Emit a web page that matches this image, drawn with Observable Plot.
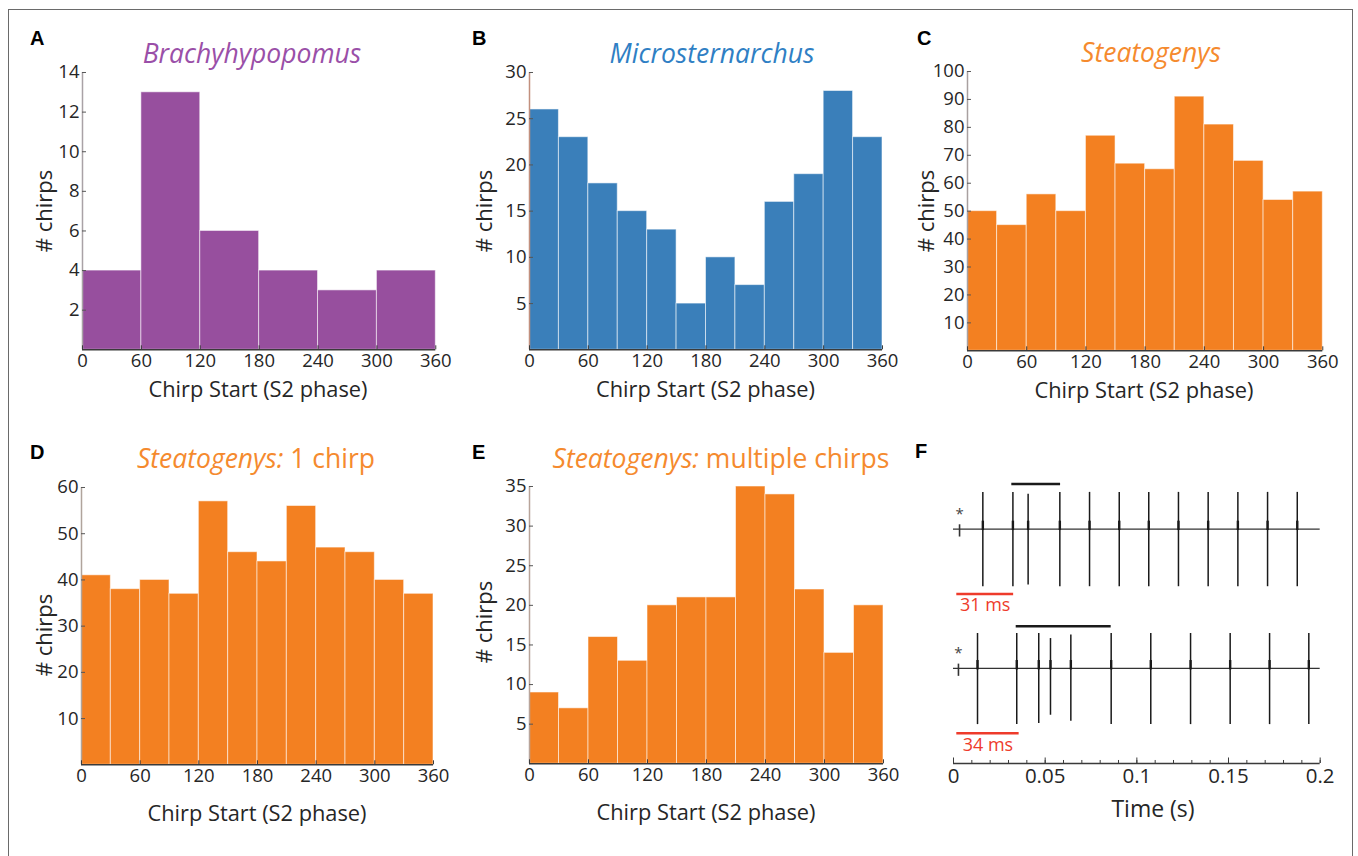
<!DOCTYPE html>
<html>
<head>
<meta charset="utf-8">
<script src="https://cdn.jsdelivr.net/npm/d3@7"></script>
<script src="https://cdn.jsdelivr.net/npm/@observablehq/plot@0.6"></script>
<style>
  html, body { margin: 0; padding: 0; background: #fff; }
  #fig { position: relative; width: 1358px; height: 856px; overflow: hidden; background: #fff;
         font-family: "Open Sans", "Noto Sans", sans-serif; color: #262626; }
  .abs { position: absolute; white-space: nowrap; }
  .center { transform: translate(-50%, -50%); }
  .letter { font-family: "Liberation Sans", Arial, sans-serif; font-weight: bold; font-size: 20px; color: #000; }
  .title { font-size: 26.5px; }
  .title i { font-style: italic; }
  .axlabel { font-size: 21.8px; color: #262626; }
  .ylab { transform: translate(-50%, -50%) rotate(-90deg); font-size: 22px; }
  #border { position: absolute; left: 8px; top: 9px; width: 1345px; height: 900px; border: 1.5px solid #6a6a6a; box-sizing: border-box; }
</style>
</head>
<body>
<div id="fig"><div id="border"></div></div>
<script>
// ---- Chirp-start phase histograms (counts per S2-phase bin, 0–360°) ----
const phaseTicks = [0, 60, 120, 180, 240, 300, 360];

const countsBrachy = [4, 13, 6, 4, 3, 4];                                   // 60° bins
const countsMicro  = [26, 23, 18, 15, 13, 5, 10, 7, 16, 19, 28, 23];        // 30° bins
const countsSteato = [50, 45, 56, 50, 77, 67, 65, 91, 81, 68, 54, 57];      // 30° bins, all chirps
const countsSteatoSingle = [41, 38, 40, 37, 57, 46, 44, 56, 47, 46, 40, 37];
const countsSteatoMulti  = [9, 7, 16, 13, 20, 21, 21, 35, 34, 22, 14, 20];

const yTicksBrachy = [2, 4, 6, 8, 10, 12, 14];
const yTicksMicro  = [5, 10, 15, 20, 25, 30];
const yTicksSteato = [10, 20, 30, 40, 50, 60, 70, 80, 90, 100];
const yTicksSingle = [10, 20, 30, 40, 50, 60];
const yTicksMulti  = [5, 10, 15, 20, 25, 30, 35];

// ---- Example EOD recordings (time in s), amplitudes in arbitrary units ----
const stimTimes = [0.0033, 0.0027];            // S2 stimulus artefact (marked *)
const trace1Times = [0.016, 0.0324, 0.0407, 0.058, 0.0742, 0.0904, 0.1065, 0.1227, 0.1389, 0.1551, 0.1713, 0.1875];
const trace1Up    = [1.02, 1.02, 0.97, 1.02, 1.02, 1.02, 1.02, 1.02, 1.02, 1.02, 1.02, 1.02];
const trace1Down  = [1.6, 1.6, 1.55, 1.6, 1.6, 1.6, 1.6, 1.6, 1.6, 1.6, 1.6, 1.6];
const trace2Times = [0.0131, 0.0345, 0.0465, 0.0529, 0.064, 0.086, 0.1076, 0.1293, 0.1509, 0.1724, 0.1938];
const trace2Up    = [0.97, 0.97, 0.97, 0.83, 0.93, 0.97, 0.97, 0.97, 0.97, 0.97, 0.97];
const trace2Down  = [1.56, 1.56, 1.53, 1.3, 1.47, 1.56, 1.56, 1.56, 1.56, 1.56, 1.56];
const chirpSpans  = [[0.0318, 0.0584], [0.0342, 0.086]];   // black bars: chirp duration
const latencyStart = [0.0018, 0.0018];                     // red bars: S2 onset to chirp
const latencyMs    = [31, 34];
const timeTicks    = [0, 0.05, 0.1, 0.15, 0.2];
const timeMinorTicks = d3.range(0, 21).map(i => i / 100);

const fig = document.getElementById("fig");

function addText(html, x, y, cls, color) {
  const d = document.createElement("div");
  d.className = "abs " + cls;
  d.style.left = x + "px";
  d.style.top = y + "px";
  if (color) d.style.color = color;
  d.innerHTML = html;
  fig.appendChild(d);
  return d;
}

function place(svg, left, top) {
  svg.style.position = "absolute";
  svg.style.left = left + "px";
  svg.style.top = top + "px";
  fig.appendChild(svg);
}

// One phase histogram: frame spans x0..x1 horizontally, yTop (max tick)..y0 (zero) vertically
function histogram(counts, yTicks, color, axisColor, frame) {
  const {x0, x1, yTop, y0} = frame;
  const mL = 50, mR = 24, mT = 14, mB = 40;
  const w = counts.length ? 360 / counts.length : 0;
  const bins = counts.map((c, i) => ({x1: i * w, x2: (i + 1) * w, count: c}));
  const yMax = yTicks[yTicks.length - 1];
  const svg = Plot.plot({
    width: (x1 - x0) + mL + mR,
    height: (y0 - yTop) + mT + mB,
    marginLeft: mL, marginRight: mR, marginTop: mT, marginBottom: mB,
    style: {fontFamily: "'Open Sans', sans-serif", fontSize: "18.5px", color: "#262626", background: "transparent", overflow: "visible"},
    x: {domain: [0, 360]},
    y: {domain: [0, yMax]},
    marks: [
      Plot.rectY(bins, {x1: "x1", x2: "x2", y: "count", fill: color, stroke: "#fff", strokeOpacity: 0.55, strokeWidth: 1}),
      Plot.ruleX([0], {y1: 0, y2: yMax, stroke: axisColor, strokeWidth: 1.5}),
      Plot.ruleY([0], {x1: 0, x2: 360, stroke: "#3a3a3a", strokeWidth: 1.5}),
      Plot.axisY({ticks: yTicks, label: null, tickSize: -4, tickPadding: 7, tickFormat: d => d, stroke: "#555", fill: "#262626", fontSize: 18.5}),
      Plot.axisX({ticks: phaseTicks, label: null, tickSize: -4, tickPadding: 8, tickFormat: d => d, stroke: "#3a3a3a", fill: "#262626", fontSize: 18.5})
    ]
  });
  place(svg, x0 - mL, yTop - mT);
}

// Panel A
histogram(countsBrachy, yTicksBrachy, "#974f9e", "#a9a2a6", {x0: 81.7, x1: 435, yTop: 71.7, y0: 349});
// Panel B
histogram(countsMicro, yTicksMicro, "#3a7fba", "#c2907e", {x0: 529, x1: 882, yTop: 71.7, y0: 349});
// Panel C
histogram(countsSteato, yTicksSteato, "#f38021", "#a8a0a0", {x0: 966.7, x1: 1322, yTop: 70.7, y0: 350});
// Panel D
histogram(countsSteatoSingle, yTicksSingle, "#f38021", "#b0a49c", {x0: 81, x1: 433, yTop: 486.7, y0: 764});
// Panel E
histogram(countsSteatoMulti, yTicksMulti, "#f38021", "#b8a49a", {x0: 529, x1: 883, yTop: 485.7, y0: 763});

// Panel F: two example recordings stacked, sharing the time axis
{
  const base = [0, -3.87];            // vertical offsets of the two traces
  const spikeSets = [
    trace1Times.map((t, i) => ({t, b: base[0], up: trace1Up[i], down: trace1Down[i]})),
    trace2Times.map((t, i) => ({t, b: base[1], up: trace2Up[i], down: trace2Down[i]}))
  ];
  const spikes = spikeSets.flat();
  const stims = stimTimes.map((t, i) => ({t, b: base[i]}));
  const chirps = chirpSpans.map(([a, b], i) => ({a, b, y: base[i] + (i === 0 ? 1.25 : 1.17)}));
  const latencies = latencyStart.map((s, i) => ({a: s, b: s + latencyMs[i] / 1000, y: base[i] - 1.8, label: latencyMs[i] + " ms"}));
  const yMin = -6.51, yMax = 1.6;
  const x0 = 953.3, x1 = 1320, yTop = 470.7, yBot = 762.7;
  const mL = 20, mR = 24, mT = 10, mB = 44;
  const svg = Plot.plot({
    width: (x1 - x0) + mL + mR,
    height: (yBot - yTop) + mT + mB,
    marginLeft: mL, marginRight: mR, marginTop: mT, marginBottom: mB,
    style: {fontFamily: "'Open Sans', sans-serif", fontSize: "18px", color: "#262626", background: "transparent", overflow: "visible"},
    x: {domain: [0, 0.2]},
    y: {domain: [yMin, yMax], axis: null},
    marks: [
      // baselines
      Plot.ruleY(base, {x1: 0, x2: 0.2, stroke: "#333", strokeWidth: 1.3}),
      // EOD spikes
      Plot.ruleX(spikes, {x: "t", y1: d => d.b - d.down, y2: d => d.b + d.up, stroke: "#1a1a1a", strokeWidth: 1.5}),
      Plot.ruleX(spikes, {x: "t", y1: d => d.b - 0.04, y2: d => d.b + 0.22, stroke: "#1a1a1a", strokeWidth: 2.4}),
      // stimulus artefacts with asterisks
      Plot.ruleX(stims, {x: "t", y1: d => d.b - 0.22, y2: d => d.b + 0.12, stroke: "#333", strokeWidth: 1.6}),
      Plot.text(stims, {x: "t", y: d => d.b + 0.42, text: () => "*", fill: "#444", fontSize: 15}),
      // chirp duration bars
      Plot.ruleY(chirps, {y: "y", x1: "a", x2: "b", stroke: "#1a1a1a", strokeWidth: 2.5}),
      // latency bars + labels
      Plot.ruleY(latencies, {y: "y", x1: "a", x2: "b", stroke: "#ee3b2b", strokeWidth: 2.5}),
      Plot.text(latencies, {x: d => (d.a + d.b) / 2, y: d => d.y - 0.32, text: "label", fill: "#ee3b2b", fontSize: 18}),
      // time axis
      Plot.ruleY([yMin], {x1: 0, x2: 0.2, stroke: "#3a3a3a", strokeWidth: 1.5}),
      Plot.axisX({ticks: timeMinorTicks, label: null, tickSize: -3, tickFormat: () => "", stroke: "#3a3a3a"}),
      Plot.axisX({ticks: timeTicks, label: null, tickSize: -5.5, tickPadding: 10, tickFormat: d => String(d), stroke: "#3a3a3a", fill: "#262626", fontSize: 20.5})
    ]
  });
  place(svg, x0 - mL, yTop - mT);
}

// Panel letters
addText("A", 30, 27, "letter");
addText("B", 472, 27, "letter");
addText("C", 917, 27, "letter");
addText("D", 30, 441, "letter");
addText("E", 472, 441, "letter");
addText("F", 915, 440, "letter");

// Titles
addText("<i>Brachyhypopomus</i>", 252, 53, "center title", "#9a4fa8");
addText("<i>Microsternarchus</i>", 712, 53, "center title", "#2f7fc4");
addText("<i>Steatogenys</i>", 1151, 52, "center title", "#f58a2e");
addText("<i>Steatogenys:</i> 1 chirp", 256, 458, "center title", "#f58a2e");
addText("<i>Steatogenys:</i> multiple chirps", 721, 458, "center title", "#f58a2e");

// Axis titles
const xLab = "Chirp Start (S2 phase)";
addText(xLab, 258, 388, "center axlabel");
addText(xLab, 705.5, 388, "center axlabel");
addText(xLab, 1144, 389, "center axlabel");
addText(xLab, 257, 812, "center axlabel");
addText(xLab, 706, 811, "center axlabel");
addText("# chirps", 43.3, 211, "ylab axlabel");
addText("# chirps", 483.3, 211, "ylab axlabel");
addText("# chirps", 925, 211, "ylab axlabel");
addText("# chirps", 42.7, 635, "ylab axlabel");
addText("# chirps", 482.7, 622, "ylab axlabel");
addText("Time (s)", 1153, 808, "center axlabel").style.fontSize = "23px";
</script>
</body>
</html>
